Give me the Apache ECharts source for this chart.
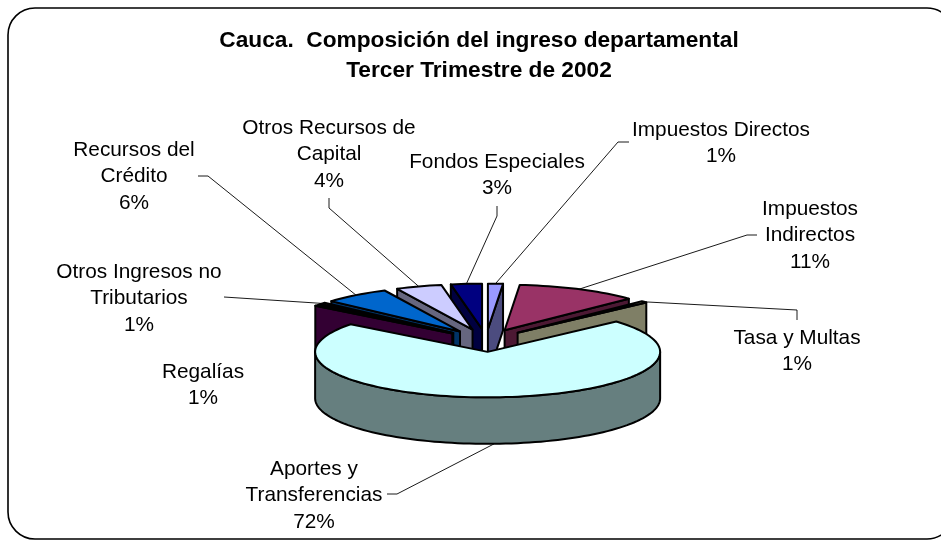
<!DOCTYPE html>
<html>
<head>
<meta charset="utf-8">
<style>html,body{margin:0;padding:0;background:#fff}#c{width:941px;height:541px}</style>
<script src="https://cdn.jsdelivr.net/npm/echarts@6/dist/echarts.min.js"></script>
</head>
<body>
<div id="c"></div>
<script>
// ---- data (clockwise from the first slice) ----
var categories = ['Impuestos Directos','Impuestos Indirectos','Tasa y Multas','Aportes y Transferencias','Regalías','Otros Ingresos no Tributarios','Recursos del Crédito','Otros Recursos de Capital','Fondos Especiales'];
var values = [1.4, 11.4, 0.6, 72, 0.6, 0.6, 6.2, 4.3, 2.9];
var labelLines = [['Impuestos Directos'],['Impuestos','Indirectos'],['Tasa y Multas'],['Aportes y','Transferencias'],['Regalías'],['Otros Ingresos no','Tributarios'],['Recursos del','Crédito'],['Otros Recursos de','Capital'],['Fondos Especiales']];
var topColors = ['#9999FF','#993366','#FFFFCC','#CCFFFF','#660066','#FF8080','#0066CC','#CCCCFF','#000080'];
var titleLines = 'Cauca.  Composición del ingreso departamental\nTercer Trimestre de 2002';

// ---- layout of the drawing (not data) ----
var P = {cx:486, cy:340.5, rx:172.5, ry:45.5, depth:46.5, explode:0.25, startDeg:0};
var labelCenter = [[721,130],[810,209],[797,338],[314,469],[203,372],[139,272],[134,150],[329,128],[497,162]];
var labelElbow = [[[629,142],[618,142]],[[757,235],[747,235]],[[797,320],[797,310]],[[387,494],[397,494]],null,[[224,297],[224,297]],[[198,176],[208,176]],[[329,198],[329,208]],[[497,206],[497,216]]];
var LINE_H = 26.5, FONT = '"Liberation Sans", Arial, sans-serif';

var total = values.reduce(function(a,b){return a+b;},0);
var slices = [], acc = 0;
values.forEach(function(v,i){
  var a1 = P.startDeg + acc/total*360; acc += v;
  var a2 = P.startDeg + acc/total*360;
  if(a1>180){a1-=360;a2-=360;}
  slices.push({i:i,a1:a1,a2:a2,mid:(a1+a2)/2});
});
function rad(d){return d*Math.PI/180;}
function tip(s){return [P.cx+P.explode*P.rx*Math.sin(rad(s.mid)), P.cy-P.explode*P.ry*Math.cos(rad(s.mid))];}
function rim(s,deg,dz){var t=tip(s);return [t[0]+P.rx*Math.sin(rad(deg)), t[1]-P.ry*Math.cos(rad(deg))+(dz||0)];}
function shade(hex){var n=parseInt(hex.slice(1),16);return 'rgb('+((n>>16&255)>>1)+','+((n>>8&255)>>1)+','+((n&255)>>1)+')';}
function arc(s,from,to,dz){var pts=[],n=Math.max(2,Math.ceil(Math.abs(to-from)/2));for(var k=0;k<=n;k++){pts.push(rim(s,from+(to-from)*k/n,dz));}return pts;}

var edge = {stroke:'#000',lineWidth:2,lineJoin:'round'};
function poly(pts,fill,z){return {type:'polygon',shape:{points:pts},style:Object.assign({fill:fill},edge),z2:z};}

function renderSlice(params,api){
  var s = slices[api.value(0)], col = topColors[s.i], side = shade(col), t = tip(s), z = params.dataIndex*10+1;
  var kids = [];
  if(Math.sin(rad(s.a1))<0){var c1=rim(s,s.a1);kids.push(poly([t,c1,[c1[0],c1[1]+P.depth],[t[0],t[1]+P.depth]],side,z));}
  if(Math.sin(rad(s.a2))>0){var c2=rim(s,s.a2);kids.push(poly([t,c2,[c2[0],c2[1]+P.depth],[t[0],t[1]+P.depth]],side,z+1));}
  var w1=Math.max(s.a1,90), w2=Math.min(s.a2,270);
  if(w2>w1){kids.push(poly(arc(s,w1,w2,0).concat(arc(s,w2,w1,P.depth)),side,z+2));}
  kids.push(poly([t].concat(arc(s,s.a1,s.a2,0)),col,z+3));
  return {type:'group',children:kids};
}

// back-to-front painting order
var order = slices.slice().sort(function(a,b){return Math.cos(rad(b.mid))-Math.cos(rad(a.mid));});

var graphics = [{type:'rect',shape:{x:8,y:8,width:946,height:531,r:27},style:{fill:'#fff',stroke:'#000',lineWidth:1.6},z:0,silent:true}];
slices.forEach(function(s,i){
  var pct = Math.round(values[i]/total*100)+'%';
  var lines = labelLines[i].concat([pct]);
  lines.forEach(function(txt,k){
    graphics.push({type:'text',x:labelCenter[i][0],y:labelCenter[i][1]+k*LINE_H,z:20,silent:true,
      style:{text:txt,fill:'#000',font:'20.8px '+FONT,textAlign:'center',textVerticalAlign:'middle'}});
  });
  if(labelElbow[i]){
    var front = Math.cos(rad(s.mid))<0;
    var m = rim(s,s.mid,front?P.depth:0);
    graphics.push({type:'polyline',shape:{points:labelElbow[i].concat([m])},z:1,silent:true,style:{stroke:'#000',lineWidth:0.9,fill:null}});
  }
});

var chart = echarts.init(document.getElementById('c'),null,{renderer:'canvas'});
chart.setOption({
  animation:false,
  backgroundColor:'#fff',
  title:{text:titleLines,left:474,top:21,textAlign:'center',
    textStyle:{fontFamily:FONT,fontSize:22.7,fontWeight:'bold',color:'#000',lineHeight:30}},
  graphic:graphics,
  series:[{type:'custom',coordinateSystem:'none',silent:true,z:5,
    data:order.map(function(s){return [s.i,values[s.i]];}),
    encode:{},
    renderItem:renderSlice}]
});
</script>
</body>
</html>
